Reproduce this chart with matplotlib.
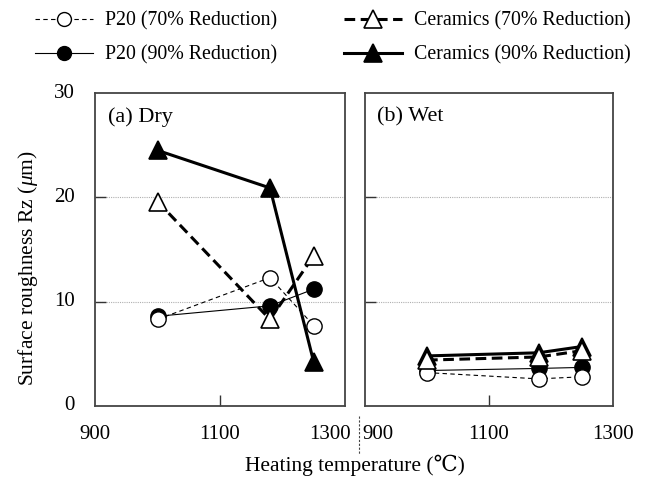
import matplotlib
matplotlib.use('Agg')
import matplotlib.pyplot as plt
from matplotlib.lines import Line2D

plt.rcParams['font.family'] = ['Liberation Serif', 'DejaVu Serif']
plt.rcParams['mathtext.fontset'] = 'custom'
plt.rcParams['mathtext.rm'] = 'Liberation Serif'
plt.rcParams['mathtext.it'] = 'Liberation Serif:italic'

# heating temperatures (deg C)
temps = [1000, 1180, 1250]

# dry
dry_p20_70 = [8.3, 12.3, 7.7]
dry_p20_90 = [8.6, 9.6, 11.2]
dry_cer_70 = [19.6, 8.3, 14.4]
dry_cer_90 = [24.5, 20.9, 4.2]

# wet
wet_p20_70 = [3.2, 2.6, 2.8]
wet_p20_90 = [3.4, 3.6, 3.7]
wet_cer_70 = [4.4, 4.7, 5.3]
wet_cer_90 = [4.8, 5.1, 5.7]

labels = ['P20 (70% Reduction)', 'P20 (90% Reduction)',
          'Ceramics (70% Reduction)', 'Ceramics (90% Reduction)']

styles = [
    dict(color='black', lw=0.8, ls=(0, (4, 3)), marker='o', ms=11, mfc='white', mec='black', mew=1.0),
    dict(color='black', lw=0.8, ls='-', marker='o', ms=11, mfc='black', mec='black', mew=1.0),
    dict(color='black', lw=2.2, ls=(0, (3.5, 1.8)), marker='^', ms=13, mfc='white', mec='black', mew=1.2),
    dict(color='black', lw=2.2, ls='-', marker='^', ms=13, mfc='black', mec='black', mew=1.2),
]

fig = plt.figure(figsize=(6.5, 4.78), dpi=100)
W, H = 650, 478
axL = fig.add_axes([95 / W, 1 - 406 / H, 250 / W, 313 / H])
axR = fig.add_axes([365 / W, 1 - 406 / H, 248 / W, 313 / H])

dry = [dry_p20_70, dry_p20_90, dry_cer_70, dry_cer_90]
wet = [wet_p20_70, wet_p20_90, wet_cer_70, wet_cer_90]

# filled first, open ones on top
order = [1, 0, 3, 2]
for ax, data, title in [(axL, dry, '(a) Dry'), (axR, wet, '(b) Wet')]:
    for i in order:
        ax.plot(temps, data[i], **styles[i])
    ax.set_xlim(900, 1300)
    ax.set_ylim(0, 30)
    ax.set_yticks([10, 20])
    ax.set_xticks([1100])
    ax.set_xticklabels([])
    ax.set_yticklabels([])
    ax.tick_params(direction='in', length=8, width=1.0, color='#333333')
    for sp in ax.spines.values():
        sp.set_color('#444444')
        sp.set_linewidth(1.3)
    ax.grid(axis='y', ls=(0, (1, 1)), color='#b0b0b0', lw=0.8)
    ax.text(0.05, 0.955, title, transform=ax.transAxes, ha='left', va='top', fontsize=16)

# y tick labels on the left panel
for v in [0, 10, 20, 30]:
    axL.text(-0.08, v, str(v), transform=axL.get_yaxis_transform(), ha='right', va='center', fontsize=15)

# x tick labels
for ax, ticks in [(axL, [(900, 'center'), (1100, 'center'), (1300, 'right')]),
                  (axR, [(900, 'left'), (1100, 'center'), (1300, 'center')])]:
    for t, ha in ticks:
        xo = t
        if ha == 'right':
            xo = t + 10
        if ha == 'left':
            xo = t - 5
        ax.text(xo, -0.09, str(t), transform=ax.get_xaxis_transform(), ha=ha, va='center', fontsize=15)

# separator between panels
fig.add_artist(Line2D([359 / W, 359 / W], [1 - 416 / H, 1 - 454 / H], color='#444444', lw=0.8, ls=(0, (2, 1.5))))

fig.text(355 / W, 1 - 465 / H, 'Heating temperature (℃)', ha='center', va='center', fontsize=15.5)
fig.text(28 / W, 1 - 268 / H, r'Surface roughness Rz ($\mu$m)', ha='center', va='center', rotation=90, fontsize=15.5)

handles = [Line2D([], [], **st) for st in styles]
handles[0].set_markersize(10)
handles[1].set_markersize(10)
fig.legend(handles, labels, ncol=2, loc='center', bbox_to_anchor=(333 / W, 1 - 38 / H),
           frameon=False, fontsize=14.3, handlelength=2.9, columnspacing=3.4, labelspacing=0.75,
           handletextpad=0.6)

fig.savefig('out.png', dpi=100)
